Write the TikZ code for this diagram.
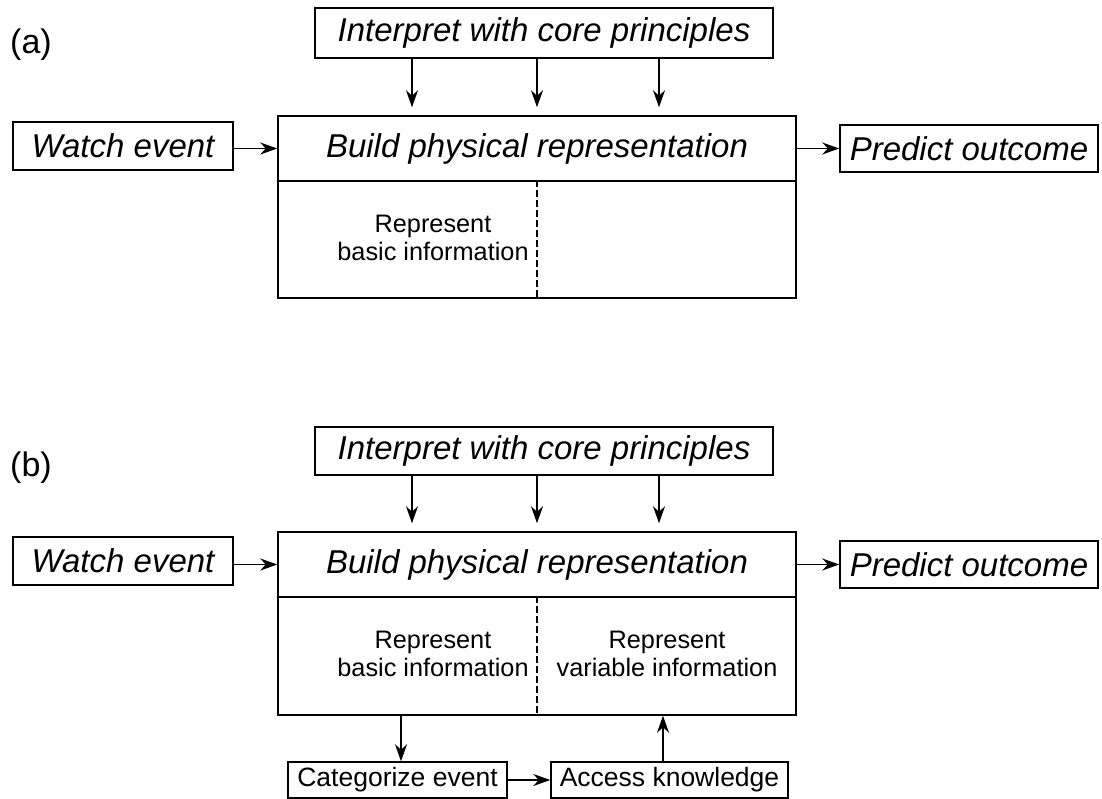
\documentclass[tikz,border=0pt]{standalone}
\usepackage{fontspec}
\setmainfont{Liberation Sans}
\usetikzlibrary{arrows.meta,positioning}

\begin{document}
\begin{tikzpicture}[x=1pt,y=-1pt,line width=1.5pt,
  bigbox/.style={draw,rectangle,inner sep=0pt,font=\fontsize{33}{40}\selectfont\itshape},
  smallbox/.style={draw,rectangle,inner sep=0pt,font=\fontsize{26.5}{30}\selectfont},
  info/.style={align=center,font=\fontsize{25.3}{28}\selectfont},
  panel/.style={font=\fontsize{34}{40}\selectfont},
  arr/.style={-{Stealth[length=17pt,width=12pt]}},
  divider/.style={dash pattern=on 7pt off 3pt}]
\useasboundingbox (0,0) rectangle (1102,799);
% panel (a)
\node[panel](labA) at (31,45) {(a)};
\node[bigbox,minimum width=458,minimum height=50](interpA) at (544,33) {Interpret with core principles};
\node[bigbox,minimum width=220,minimum height=48](watchA) at (123,146) {Watch event};
\node[bigbox,minimum width=518,minimum height=65](buildA) at (537,148.5) {Build physical representation};
\node[draw,minimum width=518,minimum height=117,inner sep=0pt](bodyA) at (537,239.5) {};
\node[bigbox,minimum width=258,minimum height=47](predA) at (969,148.5) {Predict outcome};
\node[info](basicA) at (433,238) {Represent\\basic information};
\draw[divider] (bodyA.north) -- (bodyA.south);
\draw[arr] (watchA.east |- buildA) -- (buildA.west);
\draw[arr] (buildA.east) -- (predA.west |- buildA);
\draw[arr,shorten >=8pt] (interpA.south -| 412,0) -- (buildA.north -| 412,0);
\draw[arr,shorten >=8pt] (interpA.south -| 537,0) -- (buildA.north -| 537,0);
\draw[arr,shorten >=8pt] (interpA.south -| 659,0) -- (buildA.north -| 659,0);
% panel (b)
\node[panel](labB) at (31,468) {(b)};
\node[bigbox,minimum width=458,minimum height=48](interpB) at (544,451) {Interpret with core principles};
\node[bigbox,minimum width=220,minimum height=48](watchB) at (123,561) {Watch event};
\node[bigbox,minimum width=518,minimum height=65](buildB) at (537,564.5) {Build physical representation};
\node[draw,minimum width=518,minimum height=118,inner sep=0pt](bodyB) at (537,656) {};
\node[bigbox,minimum width=258,minimum height=47](predB) at (969,564.5) {Predict outcome};
\node[info](basicB) at (433,654) {Represent\\basic information};
\node[info](varB) at (667,654) {Represent\\variable information};
\node[smallbox,minimum width=219,minimum height=36](catB) at (397.5,780) {Categorize event};
\node[smallbox,minimum width=237,minimum height=36](accB) at (669.5,780) {Access knowledge};
\draw[divider] (bodyB.north) -- (bodyB.south);
\draw[arr] (watchB.east |- buildB) -- (buildB.west);
\draw[arr] (buildB.east) -- (predB.west |- buildB);
\draw[arr,shorten >=8pt] (interpB.south -| 412,0) -- (buildB.north -| 412,0);
\draw[arr,shorten >=8pt] (interpB.south -| 537,0) -- (buildB.north -| 537,0);
\draw[arr,shorten >=8pt] (interpB.south -| 659,0) -- (buildB.north -| 659,0);
\draw[arr] (bodyB.south -| 401,0) -- (catB.north -| 401,0);
\draw[arr] (accB.north -| 663,0) -- (bodyB.south -| 663,0);
\draw[arr] (catB.east) -- (accB.west);
\end{tikzpicture}
\end{document}
